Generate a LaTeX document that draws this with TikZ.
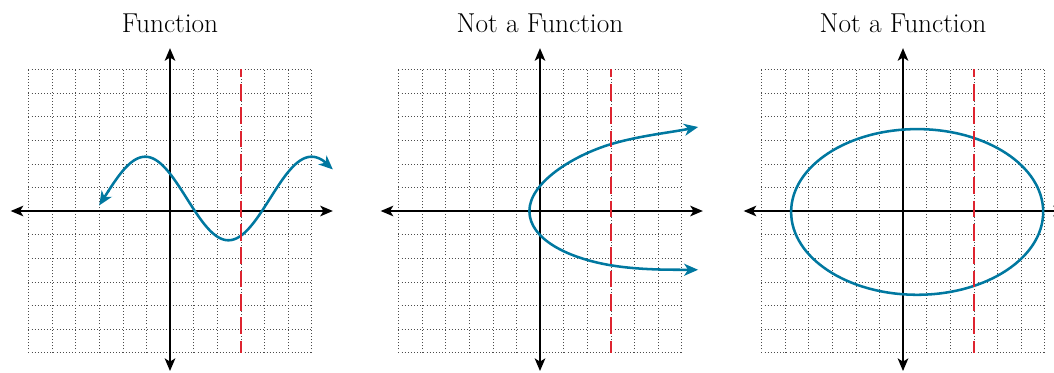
\documentclass[tikz,border=0pt]{standalone}
\usetikzlibrary{arrows.meta}
\definecolor{fnblue}{RGB}{0,120,160}
\definecolor{fnred}{RGB}{222,36,48}
\tikzset{
  gridline/.style={black!70, line width=0.45pt, dash pattern=on 0.75pt off 1.6pt},
  axisline/.style={black, line width=1.1pt,
    {Stealth[length=9.5pt,width=8pt,inset=2.5pt]}-{Stealth[length=9.5pt,width=8pt,inset=2.5pt]}},
  testline/.style={fnred, line width=1.9pt, dash pattern=on 12.5pt off 5pt, dash phase=6.5pt},
  graphline/.style={fnblue, line width=1.9pt},
  bluetip/.style={-{Stealth[length=10.5pt,width=9pt,inset=3pt]}},
  graphcurve/.style={graphline,
    {Stealth[length=10.5pt,width=9pt,inset=3pt]}-{Stealth[length=10.5pt,width=9pt,inset=3pt]}},
  title/.style={font=\fontsize{20.5}{23}\selectfont, anchor=base, inner sep=0pt}
}
\newcommand\panelgridaxes{%
  \foreach \i in {-6,...,6} {
    \draw[gridline] (\i,-6) -- (\i,6);
    \draw[gridline] (-6,\i) -- (6,\i);
  }
  \draw[axisline] (-6.75,0) -- (6.9,0);
  \draw[axisline] (0,-6.78) -- (0,6.9);
}
\begin{document}
\begin{tikzpicture}[x=0.75pt,y=-0.75pt,
  declare function={fw(\t)=0.53+1.77*cos(deg(2*pi*(\t+1.05)/7.05));}]
\useasboundingbox (0,0) rectangle (1054,372);
\node[title] (t1) at (170,32.7) {Function};
\node[title] (t2) at (540,32.7) {Not a Function};
\node[title] (t3) at (903,32.7) {Not a Function};
% panel 1
\begin{scope}[shift={(170,211)},x=17.7pt,y=17.7pt]
  \panelgridaxes
  \draw[graphline] plot[domain=-2.62:6.52, samples=200] (\x,{fw(\x)});
  \coordinate (l0) at (-2.6,{fw(-2.6)});
  \coordinate (l1) at (-3,{fw(-3)});
  \coordinate (r0) at (6.5,{fw(6.5)});
  \coordinate (r1) at (6.9,{fw(6.9)});
  \draw[graphline, bluetip] (l0) -- (l1);
  \draw[graphline, bluetip] (r0) -- (r1);
  \draw[testline] (3,6) -- (3,-6);
\end{scope}
% panel 2
\begin{scope}[shift={(540,211)},x=17.7pt,y=17.7pt]
  \panelgridaxes
  \draw[graphcurve] (6.7,3.56) .. controls (5.5,3.32) and (4.2,3.19) .. (3,2.83)
    .. controls (1.4,2.35) and (-0.45,1.2) .. (-0.45,0)
    .. controls (-0.45,-1.2) and (1.2,-2.0) .. (3,-2.3)
    .. controls (4.2,-2.5) and (5.5,-2.49) .. (6.7,-2.49);
  \draw[testline] (3,6) -- (3,-6);
\end{scope}
% panel 3
\begin{scope}[shift={(903,211)},x=17.7pt,y=17.7pt]
  \panelgridaxes
  \draw[graphline] (0.6,-0.04) ellipse [x radius=5.34, y radius=3.51];
  \draw[testline] (3,6) -- (3,-6);
\end{scope}
\end{tikzpicture}
\end{document}
